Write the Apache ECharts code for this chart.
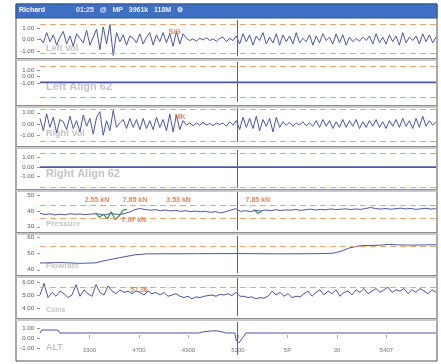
<!DOCTYPE html>
<html><head><meta charset="utf-8">
<script src="https://cdn.jsdelivr.net/npm/echarts@6/dist/echarts.min.js"></script>
<style>html,body{margin:0;padding:0;background:#fff}#c{width:441px;height:364px}</style>
</head><body><div id="c"></div>
<script>
// ---------- data ----------
const titleText = 'Richard';
const statusText = '01:25   @   MP   3961k   118M   \u2699';
const panelNames = ['Left Vol','Left Align 62','Right Vol','Right Align 62','Pressure','Flowrate','Coins','ALT'];
const xTickValues = [12.5,25,37.5,50,62.5,75,87.5];
const xTickLabels = ['3300','4700','4900','5200','5P','30','5407'];
const cursorX = [49.7];

const yTickValues = [[1,0,-1],[1,0,-1],[1,0,-1],[1,0,-1],[50,40,30],[60,50,40],[6,5,4],[1,0,-1]];
const yTickLabels = [
  ['1.00','0.00','-1.00'],['1.00','0.00','-1.00'],['1.00','0.00','-1.00'],['1.00','0.00','-1.00'],
  ['50','40','30'],['60','50','40'],['6.00','5.00','4.00'],['1.00','0.00','-1.00']
];
const thresholds = [[1.35,-1.17],[1.54,-3.23],[1.3,-1.5],[1.48,-2.1],[43.75,35.6],[54.8],[5.62],[]];

const leftVol = [0.1,-0.3,0.6,-0.2,0.4,-0.5,0.2,0.7,-0.4,0.3,-0.6,0.5,0.1,-0.3,0.8,-0.5,0.2,0.9,-0.9,1.1,-0.4,1.3,-1.4,0.6,-0.2,
  0.4,-0.5,0.3,0.1,-0.3,0.5,-0.4,0.2,0.6,-0.5,0.4,-0.2,0.6,-0.3,0.5,-0.6,
  0.7,-0.4,0.5,0.1,-0.1,0.05,-0.15,0.1,-0.05,0.15,-0.1,0.05,-0.15,0.1,0.2,-0.2,0.1,-0.1,
  0.3,-0.4,0.5,-0.2,0.4,-0.5,0.3,-0.1,0.6,-0.4,0.2,-0.3,0.5,-0.5,0.4,-0.2,0.3,-0.4,0.6,-0.3,0.1,-0.2,0.4,-0.5,0.3,-0.3,0.5,-0.1,0.2,-0.4,0.5,-0.3,0.4,-0.5,0.2,-0.2,0.1,-0.15,0.2,-0.1,0.3,-0.4,0.5,-0.3,0.2,-0.4,0.4,-0.2,0.3,-0.5,0.6,-0.3,0.2,-0.1,0.3,-0.4,0.5,-0.2,0.4,-0.3,0.2];
const leftAlign = [[0,-0.9],[100,-0.9]];
const rightVol = [0.5,-0.6,0.9,-0.3,0.6,-0.8,0.4,0.2,-0.5,0.7,-0.4,0.3,-0.7,0.8,-0.2,0.5,-0.9,0.6,1.1,-1.0,0.3,-0.6,1.2,-0.3,0.1,
  0.4,-0.4,0.5,-0.3,0.4,-0.5,0.5,-0.4,0.3,-0.5,0.6,-0.3,0.4,-0.6,0.9,-0.7,
  0.8,-0.5,0.3,-0.1,0.1,-0.15,0.1,-0.1,0.15,-0.1,0.05,-0.15,0.1,-0.05,0.1,-0.2,0.2,-0.1,
  0.3,-0.5,0.6,-0.3,0.5,-0.4,0.7,-0.6,0.4,-0.2,0.5,-0.7,0.6,-0.3,0.2,-0.1,0.15,-0.2,0.1,-0.1,0.2,-0.15,0.1,-0.2,0.3,-0.3,0.4,-0.2,0.3,-0.4,0.2,-0.3,0.4,-0.3,0.3,-0.2,0.4,-0.4,0.2,-0.3,0.3,-0.2,0.4,-0.3,0.2,-0.4,0.3,-0.2,0.4,-0.3,0.5,-0.2,0.3,-0.4,0.5,-0.3,0.7,-0.2,0.3,-0.1,0.2];
const rightAlign = [[0,0],[100,0]];
const pressure = [38.5,37.8,38.2,37.5,38.0,37.6,38.3,37.9,38.1,37.7,38.0,
  38.2,38.0,37.6,38.4,38.0,37.8,38.5,39.5,41.0,41.5,
  41.0,40.5,40.8,40.2,40.6,40.0,40.4,39.8,40.2,39.6,40.0,39.5,39.8,39.2,39.6,38.8,39.5,40.5,41.5,39.8,
  40.2,39.6,40.4,40.0,40.6,40.2,40.8,40.3,40.7,40.5,41.0,40.4,40.8,41.2,40.6,41.0,40.7,41.3,40.9,41.1,
  41.4,40.9,41.3,41.0,41.6,42.2,41.5,41.2,41.6,41.1,41.5,41.8,41.3,41.6,41.0,41.4,41.7,41.2,41.5];
const pressureGreenA = [[14,39],[15,36],[16,38],[17,35],[18,39.5],[19,34.5],[20,37],[21,40.5],[22,41]];
const pressureGreenB = [[54,41],[55,38.5],[56,40]];
const pressureNotes = [[14.4,47,'2.55 kN'],[24,47,'7.85 kN'],[35,47,'3.53 kN'],[55,47,'7.85 kN'],[23.7,34,'7.97 kN']];
const flowrate = [[0,44.2],[5,44.5],[10,44.0],[14,44.3],[16,45.5],[20,47.5],[24,49.3],[27,49.9],[40,50.0],[50,50.1],[60,49.9],[70,50.0],[74,50.3],[76,51.5],[78,53.5],[81,55.0],[86,55.3],[88,55.8],[90,55.5],[94,55.3],[100,55.6]];
const coins = [5.0,5.9,4.8,5.2,4.9,5.3,5.1,4.8,5.0,5.8,4.9,5.4,5.1,4.9,5.8,5.2,5.0,5.7,5.3,5.1,5.4,5.2,5.3,
  5.1,5.3,5.2,5.0,5.3,5.1,5.2,5.0,5.2,4.9,5.0,5.1,4.9,
  4.8,4.9,4.7,4.85,4.8,4.9,4.95,5.0,4.9,5.05,5.0,5.1,4.95,5.2,4.9,
  4.9,4.8,4.85,4.7,4.8,4.75,4.9,5.3,5.0,5.2,4.9,5.1,4.8,4.9,4.85,
  5.1,5.3,4.9,5.2,5.4,5.0,5.3,5.1,5.4,4.9,5.2,5.3,5.0,5.4,5.2,5.5,5.1,5.3,5.5,5.2,5.4,5.6,5.2,5.4,5.3,5.5,5.1,5.4,5.2,5.5,5.3,5.1,5.4,5.2];
const coinsNotes = [[25,5.35,'57.36']];
const alt = [[0,0.5],[0.5,0.8],[4.5,0.8],[5,0.5],[40,0.5],[41,0.6],[43,0.7],[44.5,0.72],[46,0.6],[47,0.5],[49.2,0.5],[49.6,-0.3],[50.2,-0.5],[51.5,0.2],[52,0.5],[100,0.5]];
const leftVolNotes = [[34,0.66,'S/G']];
const rightVolNotes = [[35.4,0.62,'MK']];

// ---------- layout ----------
const layout = [
  {top:20, h:36, min:-1.45, max:1.7},
  {top:62, h:40, min:-3.9, max:2.2},
  {top:106, h:36, min:-1.6, max:1.6},
  {top:150, h:38, min:-2.2, max:1.8},
  {top:192, h:38, min:28, max:52},
  {top:236, h:37, min:38, max:61},
  {top:278, h:38, min:3.38, max:6.31},
  {top:322, h:33, min:-1.7, max:1.6}
];
const nameStyle = [
  {y:50, size:9}, {y:88, size:11}, {y:135, size:9}, {y:175, size:11},
  {y:225, size:8}, {y:267, size:8}, {y:311, size:7}, {y:349, size:9}
];
const sepY = [58,105,146,189,232,275,318];

const LINE = '#4b56a8';
const ORANGE = '#f0a46e';
const NOTE = '#e8632a';
const uni = a => a.map((v,i)=>[i*100/(a.length-1), v]);

const grids = [], xAxes = [], yAxes = [], series = [];
layout.forEach((L,i)=>{
  grids.push({left:40, right:5, top:L.top, height:L.h});
  const last = i === layout.length-1;
  xAxes.push({type:'value', gridIndex:i, min:0, max:100, show:last,
    axisLine:{show:false}, splitLine:{show:false},
    axisTick:{show:last, inside:true, length:3, lineStyle:{color:'#aaa'}, customValues:xTickValues},
    axisLabel:{show:last, inside:true, margin:2, fontSize:6, color:'#777', customValues:xTickValues,
      formatter:(v)=>{const k=xTickValues.indexOf(v); return k>=0?xTickLabels[k]:'';}}});
  yAxes.push({type:'value', gridIndex:i, min:L.min, max:L.max,
    axisLine:{show:false}, splitLine:{show:false},
    axisTick:{show:true, length:3, lineStyle:{color:'#999'}, customValues:yTickValues[i]},
    axisLabel:{fontSize:6, color:'#555', margin:6, customValues:yTickValues[i],
      formatter:(v)=>{const k=yTickValues[i].indexOf(v); return k>=0?yTickLabels[i][k]:'';}}});
});

const mark = (i)=>({silent:true, symbol:'none', label:{show:false}, animation:false,
  data: thresholds[i].map(t=>({yAxis:t, lineStyle:{color:ORANGE, type:[6,4], width:1}}))
    .concat(cursorX.map(c=>({xAxis:c, lineStyle:{color:'#56639a', type:'solid', width:1}})))});

const mainData = [uni(leftVol), leftAlign, uni(rightVol), rightAlign, uni(pressure), flowrate, uni(coins), alt];
mainData.forEach((d,i)=>{
  series.push({type:'line', xAxisIndex:i, yAxisIndex:i, data:d, symbol:'none', z:3,
    lineStyle:{color:LINE, width:(i===1||i===3)?1.6:1}, markLine:mark(i), animation:false});
});
series.push({type:'line', xAxisIndex:4, yAxisIndex:4, data:pressureGreenA, symbol:'none', z:4, lineStyle:{color:'#3b9a4c', width:1.3}, animation:false});
series.push({type:'line', xAxisIndex:4, yAxisIndex:4, data:pressureGreenB, symbol:'none', z:4, lineStyle:{color:'#3b9a4c', width:1.3}, animation:false});

const notes = (arr, i)=>({type:'scatter', xAxisIndex:i, yAxisIndex:i, symbolSize:0, z:5, animation:false,
  data: arr.map(n=>({value:[n[0],n[1]], label:{formatter:n[2]}})),
  label:{show:true, position:'inside', color:NOTE, fontSize:7, fontWeight:'bold', fontFamily:'Liberation Sans'}});
series.push(notes(leftVolNotes,0));
series.push(notes(rightVolNotes,2));
series.push(notes(pressureNotes,4));
series.push(notes(coinsNotes,6));

const graphic = [];
// frame
graphic.push({type:'rect', shape:{x:16, y:4, width:421, height:357}, style:{fill:'#fff', stroke:'#555', lineWidth:1}, z:-10, silent:true});
// title bar
graphic.push({type:'rect', shape:{x:16, y:4, width:421, height:14}, style:{fill:'#3e6fc3', stroke:'#2c559c', lineWidth:1}, z:50, silent:true});
graphic.push({type:'text', x:19, y:7, style:{text:titleText, fill:'#fff', fontSize:7, fontWeight:'bold', fontFamily:'Liberation Sans'}, z:51, silent:true});
graphic.push({type:'text', x:76, y:7, style:{text:statusText, fill:'#eef', fontSize:7, fontWeight:'bold', fontFamily:'Liberation Sans'}, z:51, silent:true});
// panel names
panelNames.forEach((n,i)=>{
  graphic.push({type:'text', x:46, y:nameStyle[i].y - nameStyle[i].size/2 - 1,
    style:{text:n, fill:'#c4c4c4', fontSize:nameStyle[i].size, fontWeight:'bold', fontFamily:'Liberation Sans'}, z:1, silent:true});
});
// separators
sepY.forEach(y=>{
  graphic.push({type:'rect', shape:{x:16, y:y, width:421, height:3}, style:{fill:'#c9c9c9'}, z:40, silent:true});
  graphic.push({type:'rect', shape:{x:16, y:y, width:421, height:1}, style:{fill:'#8e8e8e'}, z:41, silent:true});
});

const chart = echarts.init(document.getElementById('c'), null, {renderer:'canvas'});
chart.setOption({animation:false, backgroundColor:'#fff', grid:grids, xAxis:xAxes, yAxis:yAxes, series:series, graphic:graphic});
</script></body></html>
